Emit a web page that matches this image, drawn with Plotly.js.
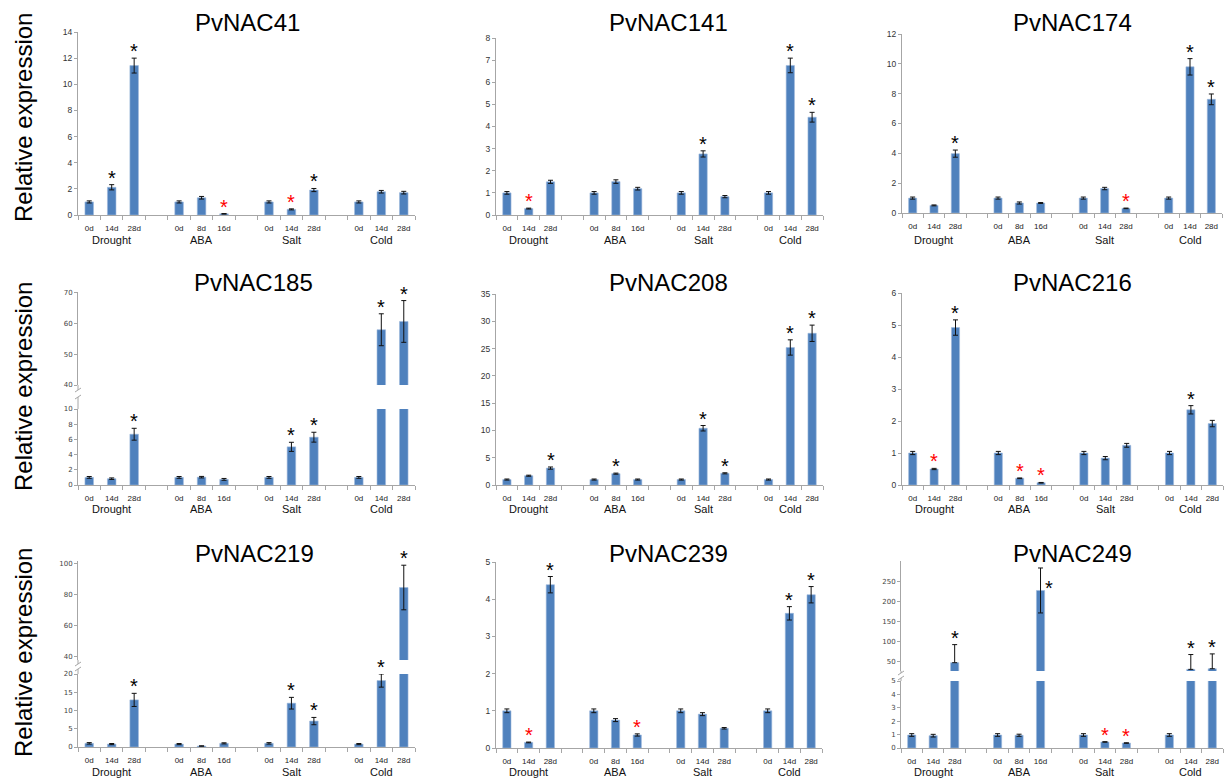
<!DOCTYPE html>
<html><head><meta charset="utf-8">
<script src="https://cdn.plot.ly/plotly-3.0.1.min.js"></script>
<style>html,body{margin:0;padding:0;background:#fff}#chart{width:1227px;height:779px}</style>
</head><body><div id="chart"></div>
<script>
// ---------------- data ----------------
const treatments = ['Drought', 'ABA', 'Salt', 'Cold'];
const timeLabels = ['0d','14d','28d', '0d','8d','16d', '0d','14d','28d', '0d','14d','28d'];
const genes = ['PvNAC41','PvNAC141','PvNAC174','PvNAC185','PvNAC208','PvNAC216','PvNAC219','PvNAC239','PvNAC249'];
const yTitle = 'Relative expression';

// significance: 0 = none, 1 = black asterisk (up), 2 = red asterisk (down)
const pvnac41    = [1.0, 2.12, 11.43, 1.0, 1.32, 0.09, 1.0, 0.43, 1.91, 1.0, 1.78, 1.71];
const pvnac41Err = [0.08, 0.2, 0.57, 0.08, 0.1, 0.02, 0.08, 0.04, 0.12, 0.08, 0.1, 0.1];
const pvnac41Sig = [0,1,1, 0,0,2, 0,2,1, 0,0,0];

const pvnac141    = [1.0, 0.29, 1.5, 1.0, 1.51, 1.19, 1.0, 2.76, 0.83, 1.0, 6.76, 4.42];
const pvnac141Err = [0.06, 0.02, 0.07, 0.06, 0.08, 0.06, 0.06, 0.14, 0.05, 0.06, 0.33, 0.22];
const pvnac141Sig = [0,2,0, 0,0,0, 0,1,0, 0,1,1];

const pvnac174    = [1.0, 0.51, 3.98, 1.0, 0.67, 0.67, 1.0, 1.64, 0.31, 1.0, 9.8, 7.62];
const pvnac174Err = [0.07, 0.03, 0.24, 0.07, 0.07, 0.03, 0.07, 0.08, 0.02, 0.07, 0.55, 0.36];
const pvnac174Sig = [0,0,1, 0,0,0, 0,0,2, 0,1,1];

const pvnac185    = [1.0, 0.83, 6.68, 1.0, 1.03, 0.74, 1.0, 5.02, 6.29, 1.0, 58.0, 60.7];
const pvnac185Err = [0.12, 0.1, 0.78, 0.12, 0.1, 0.12, 0.12, 0.6, 0.65, 0.12, 5.2, 6.8];
const pvnac185Sig = [0,0,1, 0,0,0, 0,1,1, 0,1,1];

const pvnac208    = [1.0, 1.7, 3.1, 1.0, 2.08, 1.0, 1.0, 10.4, 2.14, 1.0, 25.2, 27.8];
const pvnac208Err = [0.1, 0.1, 0.2, 0.1, 0.1, 0.1, 0.1, 0.5, 0.1, 0.1, 1.4, 1.5];
const pvnac208Sig = [0,0,1, 0,1,0, 0,1,1, 0,1,1];

const pvnac216    = [1.0, 0.5, 4.92, 1.0, 0.21, 0.07, 1.0, 0.84, 1.24, 1.0, 2.35, 1.92];
const pvnac216Err = [0.05, 0.02, 0.24, 0.05, 0.01, 0.01, 0.05, 0.05, 0.06, 0.05, 0.13, 0.1];
const pvnac216Sig = [0,2,1, 0,2,2, 0,0,0, 0,1,0];

const pvnac219    = [1.0, 0.8, 12.9, 0.8, 0.27, 1.0, 1.0, 12.0, 7.1, 0.8, 18.2, 84.5];
const pvnac219Err = [0.2, 0.15, 1.8, 0.15, 0.05, 0.15, 0.2, 1.6, 1.0, 0.15, 1.8, 14.3];
const pvnac219Sig = [0,0,1, 0,0,0, 0,1,1, 0,1,1];

const pvnac239    = [1.0, 0.15, 4.39, 1.0, 0.75, 0.35, 1.0, 0.91, 0.53, 1.0, 3.62, 4.12];
const pvnac239Err = [0.05, 0.01, 0.22, 0.05, 0.04, 0.03, 0.05, 0.04, 0.02, 0.05, 0.18, 0.22];
const pvnac239Sig = [0,2,1, 0,0,2, 0,0,0, 0,1,1];

const pvnac249         = [0.97, 0.92, 46.7, 0.97, 0.95, 226.6, 0.97, 0.45, 0.37, 0.97, 30.0, 31.6];
const pvnac249ErrPlus  = [0.1, 0.1, 45, 0.1, 0.08, 56, 0.1, 0.02, 0.02, 0.1, 37, 37];
const pvnac249ErrMinus = [0.1, 0.1, 0, 0.1, 0.08, 56, 0.1, 0.02, 0.02, 0.1, 0, 0];
const pvnac249Sig = [0,0,1, 0,0,1, 0,2,2, 0,1,1];

const series = [
  {v: pvnac41,  ep: pvnac41Err,  em: pvnac41Err,  s: pvnac41Sig},
  {v: pvnac141, ep: pvnac141Err, em: pvnac141Err, s: pvnac141Sig},
  {v: pvnac174, ep: pvnac174Err, em: pvnac174Err, s: pvnac174Sig},
  {v: pvnac185, ep: pvnac185Err, em: pvnac185Err, s: pvnac185Sig},
  {v: pvnac208, ep: pvnac208Err, em: pvnac208Err, s: pvnac208Sig},
  {v: pvnac216, ep: pvnac216Err, em: pvnac216Err, s: pvnac216Sig},
  {v: pvnac219, ep: pvnac219Err, em: pvnac219Err, s: pvnac219Sig},
  {v: pvnac239, ep: pvnac239Err, em: pvnac239Err, s: pvnac239Sig},
  {v: pvnac249, ep: pvnac249ErrPlus, em: pvnac249ErrMinus, s: pvnac249Sig}
];

// ---------------- layout (pixels) ----------------
const W = 1227, H = 779;
const fx = p => p / W, fy = p => 1 - p / H;
const panels = [
  {x0:78,  x1:415,  lo:[215,32],  loRange:[0,14], loDtick:2, title:[247,22],  groupY:240, rowTitle:[23,118]},
  {x0:496, x1:823,  lo:[215,38],  loRange:[0,8],  loDtick:1, title:[668,22],  groupY:240},
  {x0:902, x1:1222, lo:[213,34],  loRange:[0,12], loDtick:2, title:[1072,22], groupY:240},
  {x0:78,  x1:415,  lo:[485,409], loRange:[0,10], loDtick:2, up:[385,292], upRange:[40,70.3], upTicks:[40,50,60,70],
     brk:[390,397], title:[253,282], groupY:509, rowTitle:[23,387], small:true},
  {x0:496, x1:823,  lo:[485,294], loRange:[0,35], loDtick:5, title:[668,282], groupY:509},
  {x0:902, x1:1223, lo:[485,293], loRange:[0,6],  loDtick:1, title:[1072,282], groupY:509},
  {x0:78,  x1:415,  lo:[747,674], loRange:[0,20], loDtick:5, up:[660,561], upRange:[38,101.5], upTicks:[40,60,80,100],
     brk:[664,669], title:[254,553], groupY:772, rowTitle:[23,653], small:true},
  {x0:496, x1:822,  lo:[748,562], loRange:[0,5],  loDtick:1, title:[668,553], groupY:772},
  {x0:901, x1:1223, lo:[748,681], loRange:[0,5],  loDtick:1, up:[671,561], upRange:[26,300], upTicks:[50,100,150,200,250],
     brk:[673,678], title:[1072,553], groupY:772, small:true, sideStar:[5]}
];

const BAR = '#4F81BD', AXIS = '#a6a6a6';
const FONT = 'Arial, "Liberation Sans", sans-serif';
const pos = timeLabels.map((_, i) => Math.floor(i / 3) * 4 + (i % 3));
const groupCenters = treatments.map((_, g) => g * 4 + 1);

const traces = [], annotations = [], shapes = [];
const layout = {
  width: W, height: H, margin: {l:0, r:0, t:0, b:0},
  paper_bgcolor: '#fff', plot_bgcolor: '#fff', showlegend: false,
  bargap: 0, font: {family: FONT}
};

function yAxis(domainPx, range, anchor, opts, small) {
  const a = {
    domain: [fy(domainPx[0]), fy(domainPx[1])], range: range, anchor: anchor,
    showline: true, linecolor: AXIS, linewidth: 1, ticks: 'outside', ticklen: 3, tickcolor: AXIS,
    showgrid: false, zeroline: false, fixedrange: true,
    tickfont: small ? {size: 7, family: '"DejaVu Sans", sans-serif', color: '#444'} : {size: 8.5, family: FONT, color: '#333'}
  };
  return Object.assign(a, opts);
}

function barTrace(d, xr, yr) {
  return {
    type: 'bar', x: pos, y: d.v, xaxis: xr, yaxis: yr, width: 0.38,
    marker: {color: BAR, line: {color: '#9DB9DC', width: 0.6}},
    error_y: {type: 'data', symmetric: false, array: d.ep, arrayminus: d.em, color: '#111', thickness: 1, width: 2.5},
    hoverinfo: 'skip'
  };
}

let upperIdx = 10;
series.forEach((d, k) => {
  const n = k + 1, L = panels[k];
  const sfx = n === 1 ? '' : String(n);
  const xr = 'x' + sfx, yr = 'y' + sfx;
  layout['xaxis' + sfx] = {
    domain: [fx(L.x0), fx(L.x1)], range: [-0.5, 14.5], anchor: yr,
    tickmode: 'array', tickvals: pos, ticktext: timeLabels, ticks: '', ticklabelstandoff: 5,
    tickfont: {size: 8, family: FONT, color: '#222'},
    showline: true, linecolor: AXIS, linewidth: 1, showgrid: false, zeroline: false, fixedrange: true,
    minor: {ticks: 'outside', tick0: -0.5, dtick: 1, ticklen: 4, tickcolor: AXIS, showgrid: false}
  };
  layout['yaxis' + sfx] = yAxis(L.lo, L.loRange, xr, {tickmode: 'linear', tick0: 0, dtick: L.loDtick}, L.small);
  traces.push(barTrace(d, xr, yr));

  let ur = null;
  if (L.up) {
    const un = upperIdx++;
    ur = 'y' + un;
    layout['yaxis' + un] = yAxis(L.up, L.upRange, xr, {tickmode: 'array', tickvals: L.upTicks}, L.small);
    traces.push(barTrace(d, xr, ur));
    // axis break marks
    const xa = L.x0;
    shapes.push({type:'line', xref:'paper', yref:'paper', x0:fx(xa), x1:fx(xa), y0:fy(L.up[0]), y1:fy(L.brk[0]), line:{color:AXIS, width:1}});
    shapes.push({type:'line', xref:'paper', yref:'paper', x0:fx(xa), x1:fx(xa), y0:fy(L.lo[1]), y1:fy(L.brk[1]), line:{color:AXIS, width:1}});
    L.brk.forEach(b => shapes.push({type:'line', xref:'paper', yref:'paper',
      x0:fx(xa - 3), y0:fy(b + 2), x1:fx(xa + 3), y1:fy(b - 2), line:{color:AXIS, width:1}}));
  }

  // title
  annotations.push({xref:'paper', yref:'paper', x: fx(L.title[0]), y: fy(L.title[1]), text: genes[k],
    showarrow:false, xanchor:'center', yanchor:'middle', font:{size:24, color:'#000', family: FONT}});
  // group labels
  treatments.forEach((t, g) => annotations.push({xref: xr, yref:'paper', x: groupCenters[g], y: fy(L.groupY),
    text: t, showarrow:false, xanchor:'center', yanchor:'middle', font:{size:11, color:'#111', family: FONT}}));
  // row title
  if (L.rowTitle) annotations.push({xref:'paper', yref:'paper', x: fx(L.rowTitle[0]), y: fy(L.rowTitle[1]),
    text: yTitle, textangle: -90, showarrow:false, xanchor:'center', yanchor:'middle',
    font:{size:24, color:'#000', family: FONT}});
  // significance asterisks
  d.s.forEach((sg, i) => {
    if (!sg) return;
    const useUp = ur && d.v[i] > L.loRange[1];
    const side = L.sideStar && L.sideStar.includes(i);
    let yv = side ? d.v[i] : d.v[i] + d.ep[i];
    if (ur && !useUp) yv = Math.min(yv, L.loRange[1]);
    annotations.push({xref: xr, yref: useUp ? ur : yr, x: pos[i], y: yv,
      text: '*', showarrow: false, xanchor: 'center', yanchor: 'bottom',
      xshift: side ? 8 : 0, yshift: side ? -11 : -6,
      font: {size: 20, color: sg === 2 ? '#FF0000' : '#000', family: FONT}});
  });
});

layout.annotations = annotations;
layout.shapes = shapes;
Plotly.newPlot('chart', traces, layout, {displayModeBar: false, staticPlot: true});
</script>
</body></html>
